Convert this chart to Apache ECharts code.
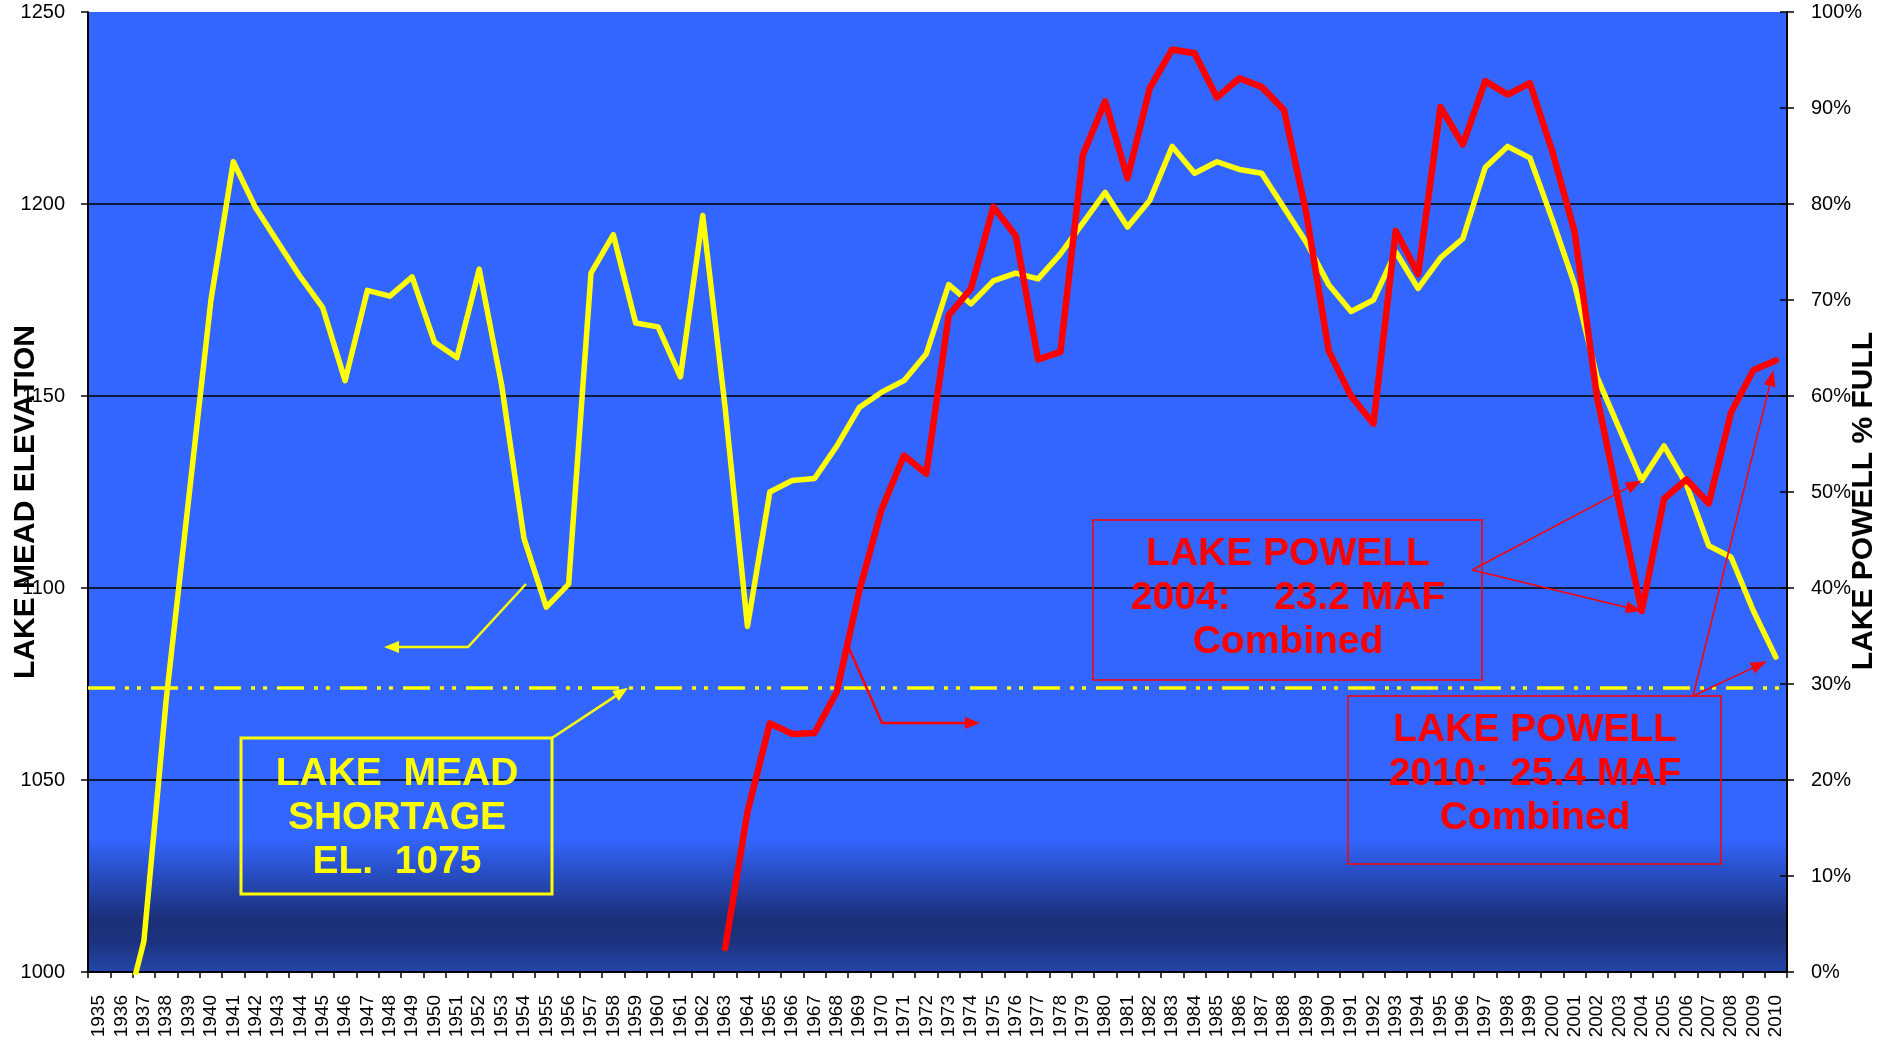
<!DOCTYPE html>
<html><head><meta charset="utf-8">
<script src="https://cdn.jsdelivr.net/npm/echarts@6/dist/echarts.min.js"></script>
<style>html,body{margin:0;padding:0;background:#fff}#c{width:1883px;height:1042px}</style>
</head><body><div id="c"></div><script>
const years = ['1935','1936','1937','1938','1939',
 '1940','1941','1942','1943','1944','1945','1946','1947','1948','1949',
 '1950','1951','1952','1953','1954','1955','1956','1957','1958','1959',
 '1960','1961','1962','1963','1964','1965','1966','1967','1968','1969',
 '1970','1971','1972','1973','1974','1975','1976','1977','1978','1979',
 '1980','1981','1982','1983','1984','1985','1986','1987','1988','1989',
 '1990','1991','1992','1993','1994','1995','1996','1997','1998','1999',
 '2000','2001','2002','2003','2004','2005','2006','2007','2008','2009','2010'];

// Lake Mead elevation (ft), left axis
const meadElevation = [null, 985, 1008, 1071, 1123,
 1175, 1211, 1199, 1190, 1181, 1173, 1154, 1177.5, 1176, 1181,
 1164, 1160, 1183, 1153, 1113, 1095, 1101, 1182, 1192, 1169,
 1168, 1155, 1197, 1147, 1090, 1125, 1128, 1128.5, 1137, 1147,
 1151, 1154, 1161, 1179, 1174, 1180, 1182, 1180.5, 1187, 1195,
 1203, 1194, 1201, 1215, 1208, 1211, 1209, 1208, 1199, 1190,
 1179, 1172, 1175, 1187.5, 1178, 1186, 1191, 1209.5, 1215, 1212,
 1196, 1179, 1155, 1141.5, 1128, 1137, 1127, 1111, 1108, 1094, 1082];

// Lake Powell % full, right axis
const powellPctFull = [null, null, null, null, null,
 null, null, null, null, null, null, null, null, null, null,
 null, null, null, null, null, null, null, null, null, null,
 null, null, null, 2.5, 16.7, 25.9, 24.8, 24.9, 29.2, 39.7,
 48.2, 53.8, 51.9, 68.4, 71.2, 79.7, 76.7, 63.8, 64.6, 85.1,
 90.7, 82.7, 92.1, 96.1, 95.7, 91.1, 93.1, 92.2, 89.8, 79,
 64.7, 60, 57.1, 77.2, 72.7, 90.1, 86.2, 92.8, 91.4, 92.6,
 85.5, 77.1, 59.9, 48.7, 37.6, 49.3, 51.3, 48.8, 58.3, 62.7, 63.7];

const shortageElevation = 1074;
const elevMin = 1000, elevMax = 1250, elevStep = 50;
const pctMin = 0, pctMax = 100, pctStep = 10;

const FONT = '"Liberation Sans", Arial, sans-serif';
const chart = echarts.init(document.getElementById('c'), null, {renderer: 'canvas'});

const option = {
  animation: false,
  backgroundColor: '#ffffff',
  grid: {
    left: 88, right: 96, top: 12, bottom: 70, show: true, borderWidth: 0,
    backgroundColor: {type: 'linear', x: 0, y: 0, x2: 0, y2: 1, colorStops: [
      {offset: 0, color: '#3366FF'}, {offset: 0.86, color: '#3366FF'},
      {offset: 0.945, color: '#1B2F78'}, {offset: 0.97, color: '#1D3380'},
      {offset: 1, color: '#2446AA'}]}
  },
  xAxis: {
    type: 'category', data: years, boundaryGap: true,
    axisLine: {lineStyle: {color: '#000', width: 2}},
    axisTick: {show: true, interval: 0, length: 6, lineStyle: {color: '#000', width: 1.5}},
    axisLabel: {interval: 0, rotate: 90, margin: 23, fontSize: 19, color: '#000', fontFamily: FONT},
    splitLine: {show: false}
  },
  yAxis: [
    {type: 'value', min: elevMin, max: elevMax, interval: elevStep, position: 'left',
     axisLine: {show: true, lineStyle: {color: '#000', width: 2}},
     axisTick: {show: true, length: 7, lineStyle: {color: '#000', width: 1.5}},
     axisLabel: {margin: 23, fontSize: 20, color: '#000', fontFamily: FONT, formatter: v => String(v)},
     splitLine: {show: true, showMaxLine: false, lineStyle: {color: '#000', width: 1.5}}},
    {type: 'value', min: pctMin, max: pctMax, interval: pctStep, position: 'right',
     axisLine: {show: true, lineStyle: {color: '#000', width: 2}},
     axisTick: {show: true, length: 7, lineStyle: {color: '#000', width: 1.5}},
     axisLabel: {margin: 24, fontSize: 20, color: '#000', fontFamily: FONT, formatter: '{value}%'},
     splitLine: {show: false}},
    {type: 'value', min: pctMin, max: pctMax, interval: pctStep, position: 'right',
     axisLine: {show: false},
     axisTick: {show: true, inside: true, length: 7, lineStyle: {color: '#000', width: 1.5}},
     axisLabel: {show: false}, splitLine: {show: false}}
  ],
  series: [
    {name: 'Lake Mead Elevation', type: 'line', data: meadElevation, yAxisIndex: 0,
     symbol: 'none', clip: true,
     lineStyle: {color: '#FFFF00', width: 5.5, join: 'round', cap: 'round'},
     markLine: {silent: true, symbol: ['none', 'none'], label: {show: false},
       lineStyle: {color: '#FFFF00', width: 3.5, type: [27, 10, 4, 8, 4, 10]},
       data: [{yAxis: shortageElevation}]}},
    {name: 'Lake Powell % Full', type: 'line', data: powellPctFull, yAxisIndex: 1,
     symbol: 'none', clip: true,
     lineStyle: {color: '#FF0000', width: 6.5, join: 'round', cap: 'round'}}
  ]
};
chart.setOption(option);

function arrow(points, color, width, headLen, headHalf) {
  const n = points.length;
  const [x1, y1] = points[n - 2], [x2, y2] = points[n - 1];
  const a = Math.atan2(y2 - y1, x2 - x1);
  const bx = x2 - headLen * Math.cos(a), by = y2 - headLen * Math.sin(a);
  const pts = points.slice(0, n - 1).concat([[bx, by]]);
  const head = [[x2, y2], [bx + headHalf * Math.sin(a), by - headHalf * Math.cos(a)],
                [bx - headHalf * Math.sin(a), by + headHalf * Math.cos(a)]];
  return [
    {type: 'polyline', z: 100, shape: {points: pts}, style: {stroke: color, lineWidth: width, fill: null}},
    {type: 'polygon', z: 100, shape: {points: head}, style: {fill: color, stroke: null}}
  ];
}
function shorten(from, to, d) {
  const dx = to[0] - from[0], dy = to[1] - from[1], L = Math.hypot(dx, dy);
  return [to[0] - dx / L * d, to[1] - dy / L * d];
}
function txt(x, y, text, color, size, rot) {
  return {type: 'text', z: 101, x: x, y: y, rotation: rot || 0,
    style: {text: text, fill: color, fontSize: size, fontWeight: 'bold', fontFamily: FONT,
            align: 'center', verticalAlign: 'middle', lineHeight: Math.round(size * 1.13)}};
}
function box(x1, y1, x2, y2, color, w) {
  return {type: 'rect', z: 100, shape: {x: x1, y: y1, width: x2 - x1, height: y2 - y1},
          style: {stroke: color, lineWidth: w, fill: null}};
}

const i04 = years.indexOf('2004'), i10 = years.indexOf('2010');
const mead04 = chart.convertToPixel({xAxisIndex: 0, yAxisIndex: 0}, [years[i04], meadElevation[i04]]);
const powell04 = chart.convertToPixel({xAxisIndex: 0, yAxisIndex: 1}, [years[i04], powellPctFull[i04]]);
const mead10 = chart.convertToPixel({xAxisIndex: 0, yAxisIndex: 0}, [years[i10], meadElevation[i10]]);
const powell10 = chart.convertToPixel({xAxisIndex: 0, yAxisIndex: 1}, [years[i10], powellPctFull[i10]]);
const shortY = chart.convertToPixel({yAxisIndex: 0}, shortageElevation);

const b1s = [1472, 570], b2s = [1693, 696];
let g = [];
g.push(txt(26, 502, 'LAKE MEAD ELEVATION', '#000', 30, Math.PI / 2));
g.push(txt(1864, 501, 'LAKE POWELL % FULL', '#000', 30, Math.PI / 2));
g.push(box(241, 738, 552, 894, '#FFFF00', 3));
g.push(txt(397, 818, 'LAKE  MEAD\nSHORTAGE\nEL.  1075', '#FFFF00', 39));
g.push(box(1093, 520, 1482, 680, '#FF0000', 1.5));
g.push(txt(1288, 598, 'LAKE POWELL\n2004:    23.2 MAF\nCombined', '#FF0000', 39));
g.push(box(1348, 696, 1721, 864, '#FF0000', 1.5));
g.push(txt(1535, 774, 'LAKE POWELL\n2010:  25.4 MAF\nCombined', '#FF0000', 39));
g = g.concat(arrow([[526, 584], [468, 647], [384, 647]], '#FFFF00', 2.5, 15, 6));
g = g.concat(arrow([[552, 738], [628, shortY]], '#FFFF00', 2.5, 15, 6));
g = g.concat(arrow([[848, 646], [882, 723], [980, 723]], '#FF0000', 2.5, 15, 6));
g = g.concat(arrow([b1s, mead04], '#FF0000', 1.5, 16, 6));
g = g.concat(arrow([b1s, powell04], '#FF0000', 1.5, 16, 6));
g = g.concat(arrow([b2s, shorten(b2s, powell10, 10)], '#FF0000', 1.5, 16, 6));
g = g.concat(arrow([b2s, shorten(b2s, mead10, 10)], '#FF0000', 1.5, 16, 6));
chart.setOption({graphic: g});
</script></body></html>
